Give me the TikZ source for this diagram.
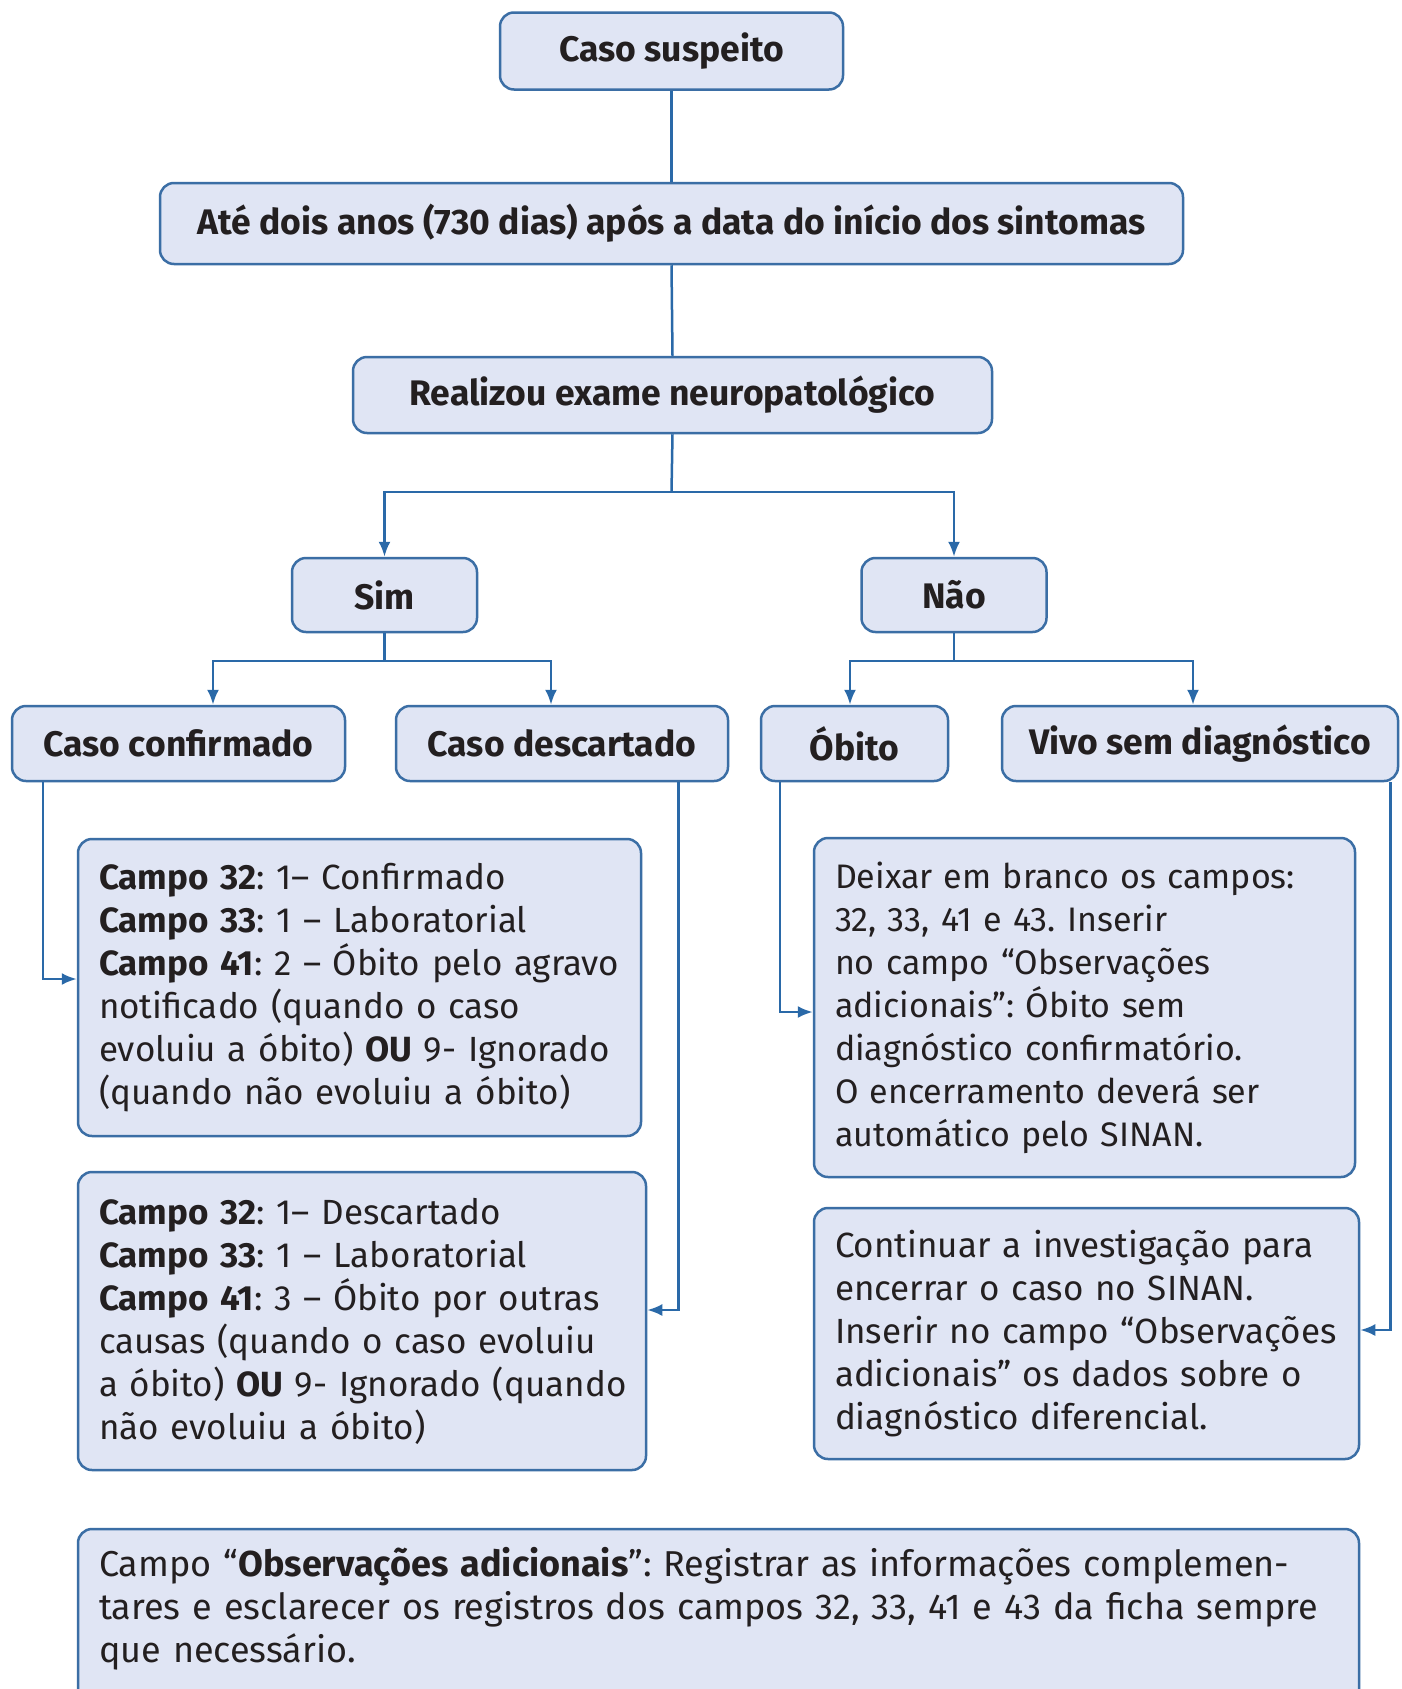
\documentclass[tikz,border=0pt]{standalone}
\usepackage{fontspec}
\setmainfont{Fira Sans}
\usetikzlibrary{arrows.meta}
\definecolor{bfill}{HTML}{E0E5F4}
\definecolor{bline}{HTML}{3B6EA5}
\definecolor{cline}{HTML}{2A69A8}
\definecolor{tcol}{HTML}{231F20}
\frenchspacing
\begin{document}
\begin{tikzpicture}[x=1pt,y=-1pt,
  box/.style={draw=bline, fill=bfill, line width=2.5pt, rounded corners=14pt, text=tcol, inner sep=0pt},
  hbox/.style={box, font=\fontsize{35.5}{43}\selectfont\bfseries},
  tbox/.style={box, font=\fontsize{35}{43}\selectfont, align=left},
  conn/.style={draw=cline, line width=2.5pt},
  arr/.style={conn, -{Latex[length=15pt,width=12pt]}}]
\clip (0,0) rectangle (1402,1689);
\fill[white] (0,0) rectangle (1402,1689);

\node[hbox, minimum width=343pt, minimum height=77pt] (cs) at (671.5,51) {Caso suspeito};
\node[hbox, minimum width=1023pt, minimum height=81pt] (ate) at (671.5,223.5) {Até dois anos (730 dias) após a data do início dos sintomas};
\node[hbox, minimum width=639pt, minimum height=76pt] (real) at (672.5,395) {Realizou exame neuropatológico};
\node[hbox, minimum width=185pt, minimum height=74pt] (sim) at (384.5,595) {Sim};
\node[hbox, minimum width=185pt, minimum height=74pt] (nao) at (954,595) {Não};
\node[hbox, minimum width=333pt, minimum height=75pt] (conf) at (178.5,743.5) {Caso confirmado};
\node[hbox, minimum width=332pt, minimum height=75pt] (desc) at (562,743.5) {Caso descartado};
\node[hbox, minimum width=187pt, minimum height=75pt] (obito) at (854.5,743.5) {Óbito};
\node[hbox, minimum width=396pt, minimum height=75pt] (vivo) at (1200,743.5) {Vivo sem diagnóstico};

\node[tbox, minimum width=563pt, minimum height=297pt, text width=521pt] (box1) at (359.5,987.5) {%
\textbf{Campo 32}: 1– Confirmado\\
\textbf{Campo 33}: 1 – Laboratorial\\
\textbf{Campo 41}: 2 – Óbito pelo agravo\\
notificado (quando o caso\\
\mbox{evoluiu a óbito) \textbf{OU} 9- Ignorado}\\
(quando não evoluiu a óbito)};

\node[tbox, minimum width=568pt, minimum height=298pt, text width=526pt] (box2) at (362,1321) {%
\textbf{Campo 32}: 1– Descartado\\
\textbf{Campo 33}: 1 – Laboratorial\\
\textbf{Campo 41}: 3 – Óbito por outras\\
causas (quando o caso evoluiu\\
\mbox{a óbito) \textbf{OU} 9- Ignorado (quando}\\
não evoluiu a óbito)};

\node[tbox, font=\fontsize{34}{43}\selectfont, minimum width=541pt, minimum height=339pt, text width=499pt] (box3) at (1084.5,1007.5) {%
Deixar em branco os campos:\\
32, 33, 41 e 43. Inserir\\
no campo “Observações\\
adicionais”: Óbito sem\\
diagnóstico confirmatório.\\
O encerramento deverá ser\\
automático pelo SINAN.};

\node[tbox, minimum width=545pt, minimum height=251pt, text width=503pt] (box4) at (1086.5,1333.5) {%
\mbox{Continuar a investigação para}\\
encerrar o caso no SINAN.\\
\mbox{Inserir no campo “Observações}\\
adicionais” os dados sobre o\\
diagnóstico diferencial.};

\node[box, minimum width=1281pt, minimum height=190pt] (box5) at (718.5,1624) {};
\node[text=tcol, font=\fontsize{36}{43}\selectfont, align=left, text width=1239pt, inner sep=0pt] (t5) at (718.5,1609) {%
\mbox{Campo “\textbf{Observações adicionais}”: Registrar as informações complemen-}\\
\mbox{tares e esclarecer os registros dos campos 32, 33, 41 e 43 da ficha sempre}\\
que necessário.};

% connectors
\draw[conn] (cs.south) -- (ate.north);
\draw[conn] (ate.south) -- (real.north);
\coordinate (j1) at (671.5,492);
\draw[conn] (real.south) -- (j1);
\draw[arr] (j1) -| (sim.north);
\draw[arr] (j1) -| (nao.north);

\coordinate (j2) at (384.5,661);
\draw[conn] (sim.south) -- (j2);
\draw[arr] (j2) -| ([xshift=34.5pt]conf.north);
\draw[arr] (j2) -| ([xshift=-11pt]desc.north);

\coordinate (j3) at (954,661);
\draw[conn] (nao.south) -- (j3);
\draw[arr] (j3) -| ([xshift=-4.5pt]obito.north);
\draw[arr] (j3) -| ([xshift=-7pt]vivo.north);

\draw[arr] ([xshift=32pt]conf.south west) |- ([yshift=8.5pt]box1.west);
\draw[arr] ([xshift=-51pt]desc.south east) |- ([yshift=11pt]box2.east);
\draw[arr] ([xshift=20pt]obito.south west) |- ([yshift=-4.5pt]box3.west);
\draw[arr] ([xshift=-9pt]vivo.south east) |- ([yshift=3.5pt]box4.east);
\end{tikzpicture}
\end{document}
